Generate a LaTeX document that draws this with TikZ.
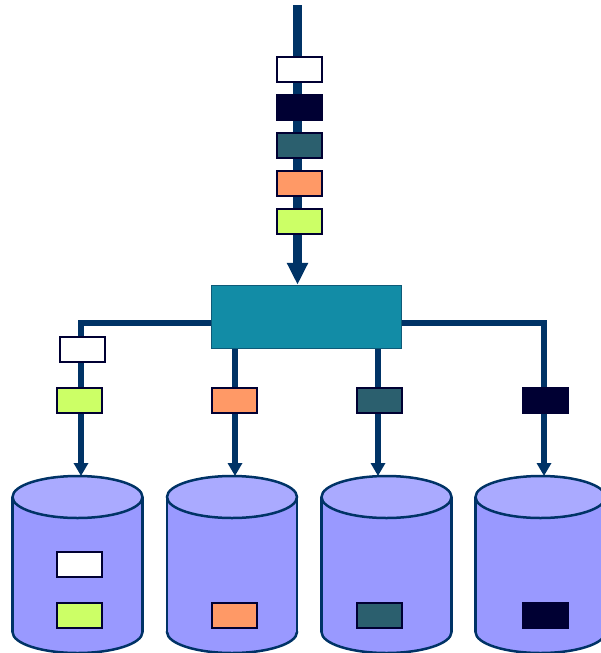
\documentclass[tikz,border=0pt]{standalone}
\usepackage{tikz}
\usetikzlibrary{arrows.meta}
\definecolor{wire}{RGB}{0,51,102}
\definecolor{navy}{RGB}{0,0,51}
\definecolor{hubfill}{RGB}{18,140,166}
\definecolor{hubline}{RGB}{14,90,120}
\definecolor{pktteal}{RGB}{43,95,110}
\definecolor{pktorange}{RGB}{255,153,102}
\definecolor{pktlime}{RGB}{204,255,102}
\definecolor{dbbody}{RGB}{153,153,255}
\definecolor{dbtop}{RGB}{170,170,255}

\begin{document}
\begin{tikzpicture}[x=1pt,y=-1pt,
        pkt/.style={draw=navy,line width=2pt,inner sep=0pt,
        minimum width=45pt,minimum height=25pt},
        hub/.style={draw=hubline,line width=1.5pt,fill=hubfill,
        minimum width=190pt,minimum height=63pt},
        trunk/.style={draw=wire,line width=9pt,-{Triangle[width=20pt,length=22pt]}},
        branch/.style={draw=wire,line width=6pt,-{Triangle[width=14pt,length=13pt]}},
        db/.style={draw=wire,line width=2.5pt}]
      \useasboundingbox (0,0) rectangle (600,653);
      % disks
      \foreach \x in {77.5,232,386.5,540.5}{
        \filldraw[db,fill=dbbody] (\x,632) ellipse (65 and 21);
        \fill[dbbody] (\x-65,497) rectangle (\x+65,632);
        \draw[db] (\x-65,497) -- (\x-65,632) (\x+65,497) -- (\x+65,632);
        \filldraw[db,fill=dbtop] (\x,497) ellipse (65 and 21);
      }
      \node[hub] (sw) at (306.5,317) {};
      \coordinate (src) at (297.5,5);
      \coordinate (db1) at (81,476);
      \coordinate (db2) at (235,476);
      \coordinate (db3) at (378,476);
      \coordinate (db4) at (544,476);
      \draw[trunk] (src) -- (src |- sw.north);
      \draw[branch] ([yshift=-6pt]sw.west) -| (db1);
      \draw[branch] ([yshift=-6pt]sw.east) -| (db4);
      \draw[branch] (sw.south -| db2) -- (db2);
      \draw[branch] (sw.south -| db3) -- (db3);
      % incoming packets
      \node[pkt,fill=white] (in1) at (299,69.5) {};
      \node[pkt,fill=navy] (in2) at (299,107.5) {};
      \node[pkt,fill=pktteal] (in3) at (299,145) {};
      \node[pkt,fill=pktorange] (in4) at (299,183.5) {};
      \node[pkt,fill=pktlime] (in5) at (299,221.5) {};
      % sorted packets
      \node[pkt,fill=white] (out1a) at (82,349) {};
      \node[pkt,fill=pktlime] (out1b) at (79.5,400) {};
      \node[pkt,fill=pktorange] (out2) at (234.5,400) {};
      \node[pkt,fill=pktteal] (out3) at (379,400) {};
      \node[pkt,fill=navy] (out4) at (545.5,400) {};
      % stored packets
      \node[pkt,fill=white] (st1a) at (79.5,564.5) {};
      \node[pkt,fill=pktlime] (st1b) at (79.5,615.5) {};
      \node[pkt,fill=pktorange] (st2) at (234.5,615.5) {};
      \node[pkt,fill=pktteal] (st3) at (379,615.5) {};
      \node[pkt,fill=navy] (st4) at (545.5,615.5) {};
    \end{tikzpicture}
\end{document}
